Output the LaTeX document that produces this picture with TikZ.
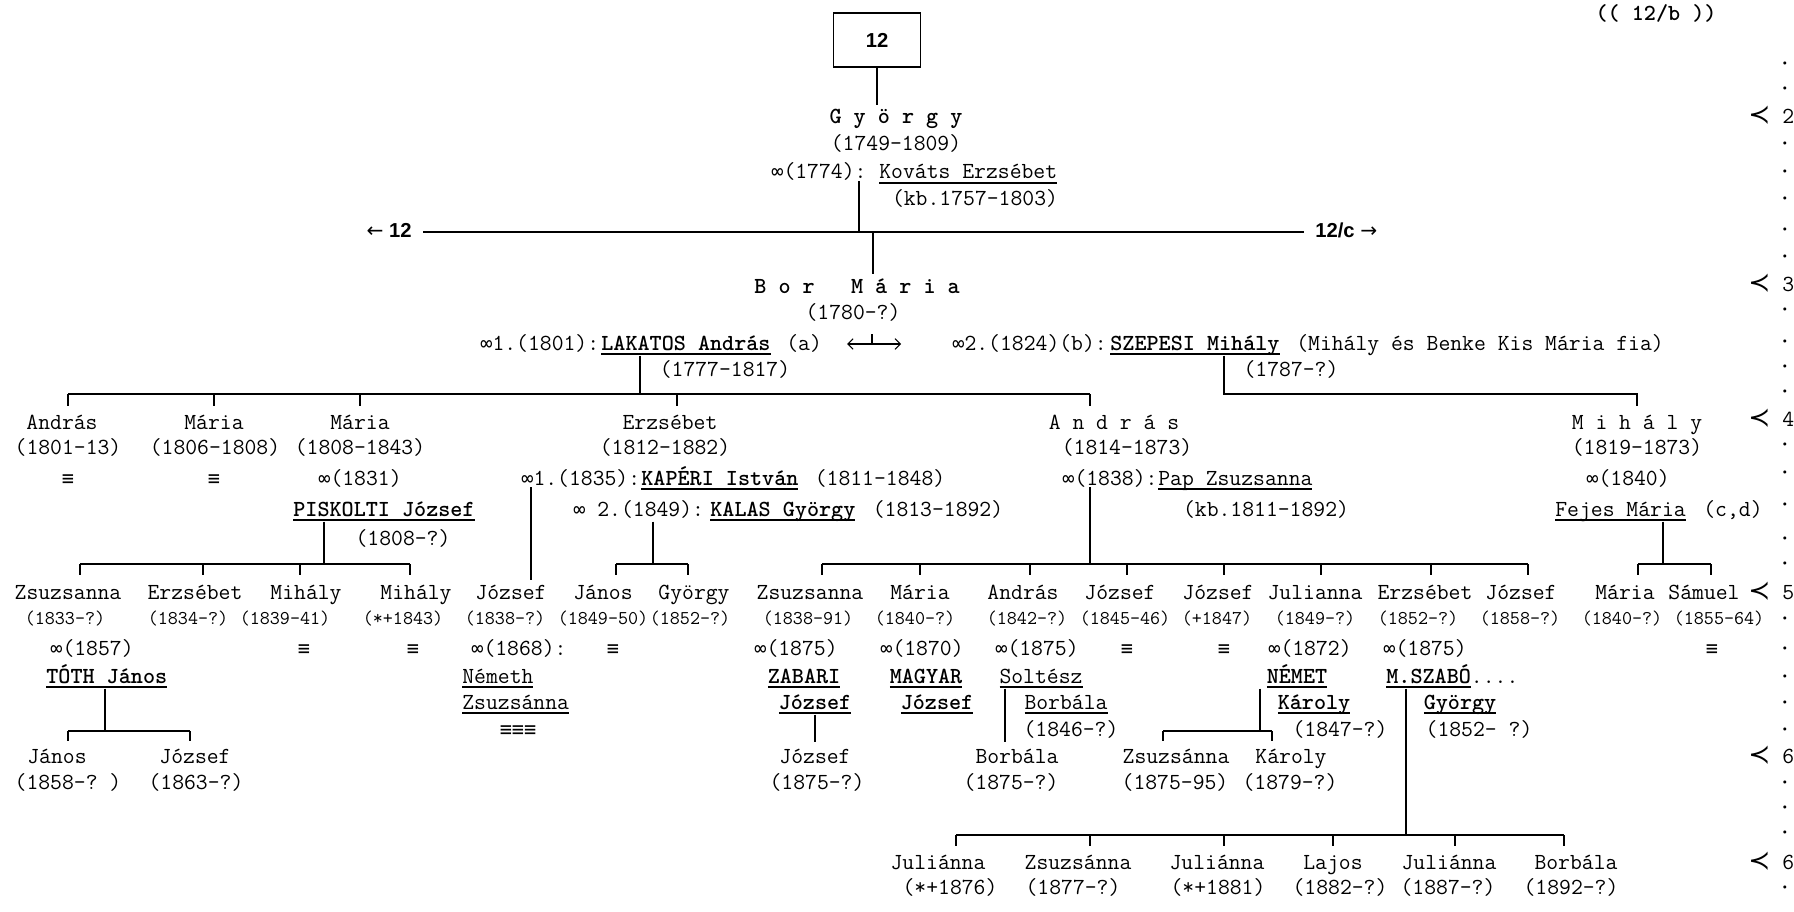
\documentclass[tikz,border=0pt]{standalone}
\usepackage{fontspec}
\setmainfont{Liberation Mono}
\newfontfamily\sansf{Liberation Sans}
\newfontfamily\dejav{DejaVu Sans}
\newfontfamily\dvm{DejaVu Sans Mono}
\usetikzlibrary{arrows.meta}

\newcommand\fn{\fontsize{13.1}{15}\selectfont\ttfamily}
\newcommand\fsm{\fontsize{11.1}{13}\selectfont\ttfamily}
\newcommand\oo{{\dvm\fontsize{11.5}{13}\selectfont ∞}}
\newcommand\idt{{\dvm\fontsize{11.5}{13}\selectfont ≡}}
\newsavebox\ulbox
\newcommand\undl[1]{\sbox\ulbox{#1}\rlap{\rule[-3pt]{\wd\ulbox}{1.2pt}}\usebox\ulbox}

\tikzset{
  t/.style={inner sep=0pt, font=\fn, anchor=base},
  tl/.style={t, anchor=base west},
  nm/.style={t, text height=8pt},
  dt/.style={t, font=\fsm},
  b/.style={font=\fn\bfseries},
  side/.style={t, font=\sansf\fontsize{11.5}{13}\selectfont\bfseries, inner xsep=0.22cm},
  ln/.style={line width=1pt},
}

\begin{document}
\begin{tikzpicture}[x=0.02cm, y=-0.02cm]
  \useasboundingbox (0,0) rectangle (1794,912);

  \node[draw, ln, minimum width=1.74cm, minimum height=1.08cm, inner sep=0pt, font=\sansf\fontsize{11.5}{13}\selectfont\bfseries] (box) at (877,40) {12};
  \node[t, b] (ref) at (1656,21) {((\ 12/b\ ))};

  \node[nm, b] (gy) at (896,124) {G y ö r g y};
  \node[t] (gyd) at (896,151) {(1749-1809)};
  \node[tl] (gym) at (771,179) {\oo(1774):};
  \node[tl] (kov) at (879,179) {\undl{Kováts Erzsébet}};
  \node[t] (kovd) at (975,206) {(kb.1757-1803)};
  \draw[ln, shorten >=0.1cm] (box.south) -- (box.south |- gy.north);

  \node[side, anchor=base east] (tol) at (423,237) {{\dejav\mdseries ←}\ 12};
  \node[side, anchor=base west] (tor) at (1304,237) {12/c\ {\dejav\mdseries →}};
  \node[nm, b, anchor=base west] (bm) at (754,293) {B o r\ \ \ M á r i a};
  \node[t] (bmd) at (853,319) {(1780-?)};
  \coordinate (gyj) at (859,232);
  \coordinate (bmj) at (873,232);
  \draw[ln] (tol.east |- gyj) -- (tor.west |- gyj);
  \draw[ln] (gyj |- gym.south) -- (gyj);
  \draw[ln, shorten >=0.1cm] (bmj) -- (bmj |- bm.north);

  \node[tl] (m1) at (480,350) {\oo1.(1801):};
  \node[tl] (lak) at (601,350) {\undl{\bfseries LAKATOS András}};
  \node[tl] (lakn) at (786,350) {(a)};
  \coordinate (swl) at (847,344);
  \coordinate (swr) at (901,344);
  \coordinate (swt) at (872,334);
  \draw[line width=0.6pt, {Straight Barb[length=3pt,width=6pt]}-{Straight Barb[length=3pt,width=6pt]}] (swl) -- (swr);
  \draw[line width=0.6pt] (swt) -- (swt |- swl);
  \node[tl] (m2) at (952,350) {\oo2.(1824)(b):};
  \node[tl] (sze) at (1110,350) {\undl{\bfseries SZEPESI Mihály}};
  \node[t] (szen) at (1480,350) {(Mihály és Benke Kis Mária fia)};
  \node[t] (lakd) at (725,376) {(1777-1817)};
  \node[t] (szed) at (1291,376) {(1787-?)};

  \coordinate (lakj) at (640,394);
  \coordinate (szej) at (1224,394);
  \coordinate (andj) at (1090,394);
  \draw[ln] (lakj |- lak.south) -- (lakj);
  \draw[ln] (68,394) -- (andj);
  \foreach \x in {68,214,360,677,1090} \draw[ln] (\x,394) -- ++(0,12);
  \draw[ln] (szej |- sze.south) -- (szej) -- (1637,394) -- ++(0,12);

  \node[nm] (k1) at (62,429) {András};
  \node[t] (k1d) at (68,454) {(1801-13)};
  \node[nm] (k2) at (214,429) {Mária};
  \node[t] (k2d) at (215,454) {(1806-1808)};
  \node[nm] (k3) at (360,429) {Mária};
  \node[t] (k3d) at (360,454) {(1808-1843)};
  \node[nm] (k4) at (670,429) {Erzsébet};
  \node[t] (k4d) at (665,454) {(1812-1882)};
  \node[nm] (k5) at (1114,429) {A n d r á s};
  \node[t] (k5d) at (1127,454) {(1814-1873)};
  \node[nm] (k6) at (1637,429) {M i h á l y};
  \node[t] (k6d) at (1637,454) {(1819-1873)};

  \node[t] (k1e) at (68,485) {\idt};
  \node[t] (k2e) at (214,485) {\idt};
  \node[t] (k3m) at (360,485) {\oo(1831)};
  \node[tl] (k4m) at (521,485) {\oo1.(1835):};
  \node[tl] (kap) at (641,485) {\undl{\bfseries KAPÉRI István}};
  \node[t] (kapd) at (880,485) {(1811-1848)};
  \node[tl] (k5m) at (1062,485) {\oo(1838):};
  \node[tl] (pap) at (1158,485) {\undl{Pap Zsuzsanna}};
  \node[t] (k6m) at (1628,485) {\oo(1840)};

  \node[t] (pis) at (384,516) {\undl{\bfseries PISKOLTI József}};
  \node[tl] (k4m2) at (573,516) {\oo\ 2.(1849):};
  \node[tl] (kal) at (710,516) {\undl{\bfseries KALAS György}};
  \node[t] (kald) at (938,516) {(1813-1892)};
  \node[t] (papd) at (1266,516) {(kb.1811-1892)};
  \node[tl] (fej) at (1555,516) {\undl{Fejes Mária}};
  \node[t] (fejn) at (1733,516) {(c,d)};
  \node[t] (pisd) at (403,545) {(1808-?)};

  \foreach \n/\x/\s/\y/\d in {g1/68/Zsuzsanna/65/(1833-?), g2/195/Erzsébet/188/(1834-?),
      g3/306/Mihály/285/(1839-41), g4/416/Mihály/403/(*+1843), g5/511/József/505/(1838-?),
      g6/603/János/603/(1849-50), g7/694/György/690/(1852-?), h1/810/Zsuzsanna/808/(1838-91),
      h2/920/Mária/915/(1840-?), h3/1023/András/1027/(1842-?), h4/1120/József/1125/(1845-46),
      h5/1218/József/1217/(+1847), h6/1315/Julianna/1315/(1849-?), h7/1425/Erzsébet/1418/(1852-?),
      h8/1521/József/1520/(1858-?), m1/1625/Mária/1622/(1840-?), m2/1704/Sámuel/1719/(1855-64)}
  {
    \node[nm] (\n) at (\x,599) {\s};
    \node[dt] (\n d) at (\y,624) {\d};
  }

  \coordinate (pisj) at (324,564);
  \coordinate (kalj) at (653,564);
  \coordinate (andj2) at (1090,564);
  \coordinate (fejj) at (1663,564);
  \coordinate (ej) at (531,564);
  \draw[ln] (pisj |- pis.south) -- (pisj);
  \draw[ln] (kalj |- kal.south) -- (kalj);
  \draw[ln] (andj2 |- k5m.south) -- (andj2);
  \draw[ln] (fejj |- fej.south) -- (fejj);
  \draw[ln, shorten >=0.1cm] (ej |- k4m.south) -- (ej |- g5.north);
  \draw[ln] (80,564) -- (410,564);
  \draw[ln] (616,564) -- (688,564);
  \draw[ln] (822,564) -- (1528,564);
  \draw[ln] (1638,564) -- (1711,564);
  \foreach \x in {80,203,300,410,616,688,822,920,1030,1127,1224,1321,1431,1528,1638,1711}
    \draw[ln] (\x,564) -- ++(0,11);

  \node[t] (g1m) at (92,655) {\oo(1857)};
  \node[t] (g3e) at (304,655) {\idt};
  \node[t] (g4e) at (413,655) {\idt};
  \node[tl] (g5m) at (471,655) {\oo(1868):};
  \node[t] (g6e) at (613,655) {\idt};
  \node[t] (h1m) at (796,655) {\oo(1875)};
  \node[t] (h2m) at (922,655) {\oo(1870)};
  \node[t] (h3m) at (1037,655) {\oo(1875)};
  \node[t] (h4e) at (1127,655) {\idt};
  \node[t] (h5e) at (1224,655) {\idt};
  \node[t] (h6m) at (1310,655) {\oo(1872)};
  \node[t] (h7m) at (1425,655) {\oo(1875)};
  \node[t] (m2e) at (1712,655) {\idt};

  \node[tl] (toth) at (46,683) {\undl{\bfseries TÓTH János}};
  \node[tl] (nem1) at (462,683) {\undl{Németh}};
  \node[t] (zab) at (804,683) {\undl{\bfseries ZABARI}};
  \node[t] (mag) at (926,683) {\undl{\bfseries MAGYAR}};
  \node[t] (sol) at (1041,683) {\undl{Soltész}};
  \node[t] (nmt) at (1297,683) {\undl{\bfseries NÉMET}};
  \node[tl] (msz) at (1386,683) {\undl{\bfseries M.SZABÓ}....};

  \node[tl] (nem2) at (462,709) {\undl{Zsuzsánna}};
  \node[t] (zabj) at (815,709) {\undl{\bfseries József}};
  \node[t] (magj) at (937,709) {\undl{\bfseries József}};
  \node[t] (solb) at (1066,709) {\undl{Borbála}};
  \node[t] (nmtk) at (1314,709) {\undl{\bfseries Károly}};
  \node[t] (mszg) at (1460,709) {\undl{\bfseries György}};

  \node[t] (nem3) at (518,736) {\idt\idt\idt};
  \node[t] (solbd) at (1071,736) {(1846-?)};
  \node[t] (nmtkd) at (1340,736) {(1847-?)};
  \node[t] (mszgd) at (1479,736) {(1852-\ ?)};

  \node[nm] (n1) at (57,763) {János};
  \node[t] (n1d) at (68,789) {(1858-?\ )};
  \node[nm] (n2) at (195,763) {József};
  \node[t] (n2d) at (196,789) {(1863-?)};
  \node[nm] (z1) at (815,763) {József};
  \node[t] (z1d) at (817,789) {(1875-?)};
  \node[nm] (s1) at (1017,763) {Borbála};
  \node[t] (s1d) at (1011,789) {(1875-?)};
  \node[nm] (p1) at (1176,763) {Zsuzsánna};
  \node[t] (p1d) at (1175,789) {(1875-95)};
  \node[nm] (p2) at (1291,763) {Károly};
  \node[t] (p2d) at (1290,789) {(1879-?)};

  \coordinate (tothj) at (105,731);
  \coordinate (solj) at (1005,731);
  \coordinate (nmtj) at (1260,731);
  \coordinate (mszj) at (1406,835);
  \draw[ln] (tothj |- toth.south) -- (tothj);
  \draw[ln] (68,731) -- (190,731);
  \draw[ln, shorten >=0.14cm] (zabj.south) -- (zabj.south |- z1.north);
  \draw[ln, shorten >=0.14cm] (solj |- sol.south) -- (solj |- s1.north);
  \draw[ln] (nmtj |- nmt.south) -- (nmtj);
  \draw[ln] (1163,731) -- (1272,731);
  \foreach \x in {68,190,1163,1272} \draw[ln] (\x,731) -- ++(0,10);

  \node[nm] (q1) at (938,869) {Juliánna};
  \node[t] (q1d) at (950,894) {(*+1876)};
  \node[nm] (q2) at (1078,869) {Zsuzsánna};
  \node[t] (q2d) at (1073,894) {(1877-?)};
  \node[nm] (q3) at (1217,869) {Juliánna};
  \node[t] (q3d) at (1218,894) {(*+1881)};
  \node[nm] (q4) at (1333,869) {Lajos};
  \node[t] (q4d) at (1340,894) {(1882-?)};
  \node[nm] (q5) at (1449,869) {Juliánna};
  \node[t] (q5d) at (1448,894) {(1887-?)};
  \node[nm] (q6) at (1576,869) {Borbála};
  \node[t] (q6d) at (1571,894) {(1892-?)};

  \draw[ln] (mszj |- msz.south) -- (mszj);
  \draw[ln] (956,835) -- (1564,835);
  \foreach \x in {956,1090,1224,1333,1455,1564} \draw[ln] (\x,835) -- ++(0,11);

  \foreach \y/\g [count=\i] in {124/2,291/3,426/4,599/5,763/6,869/6}
    \node[tl] (gen\i) at (1748,\y) {{\dejav\fontsize{15}{16}\selectfont ≺}\ \g};
  \foreach \y [count=\i] in {65,90,145,173,200,230,257,310,342,367,392,445,473,505,539,564,619,649,677,703,730,783,808,833,888}
    \node[t] (dot\i) at (1785,\y+6) {\bfseries ·};

\end{tikzpicture}
\end{document}
